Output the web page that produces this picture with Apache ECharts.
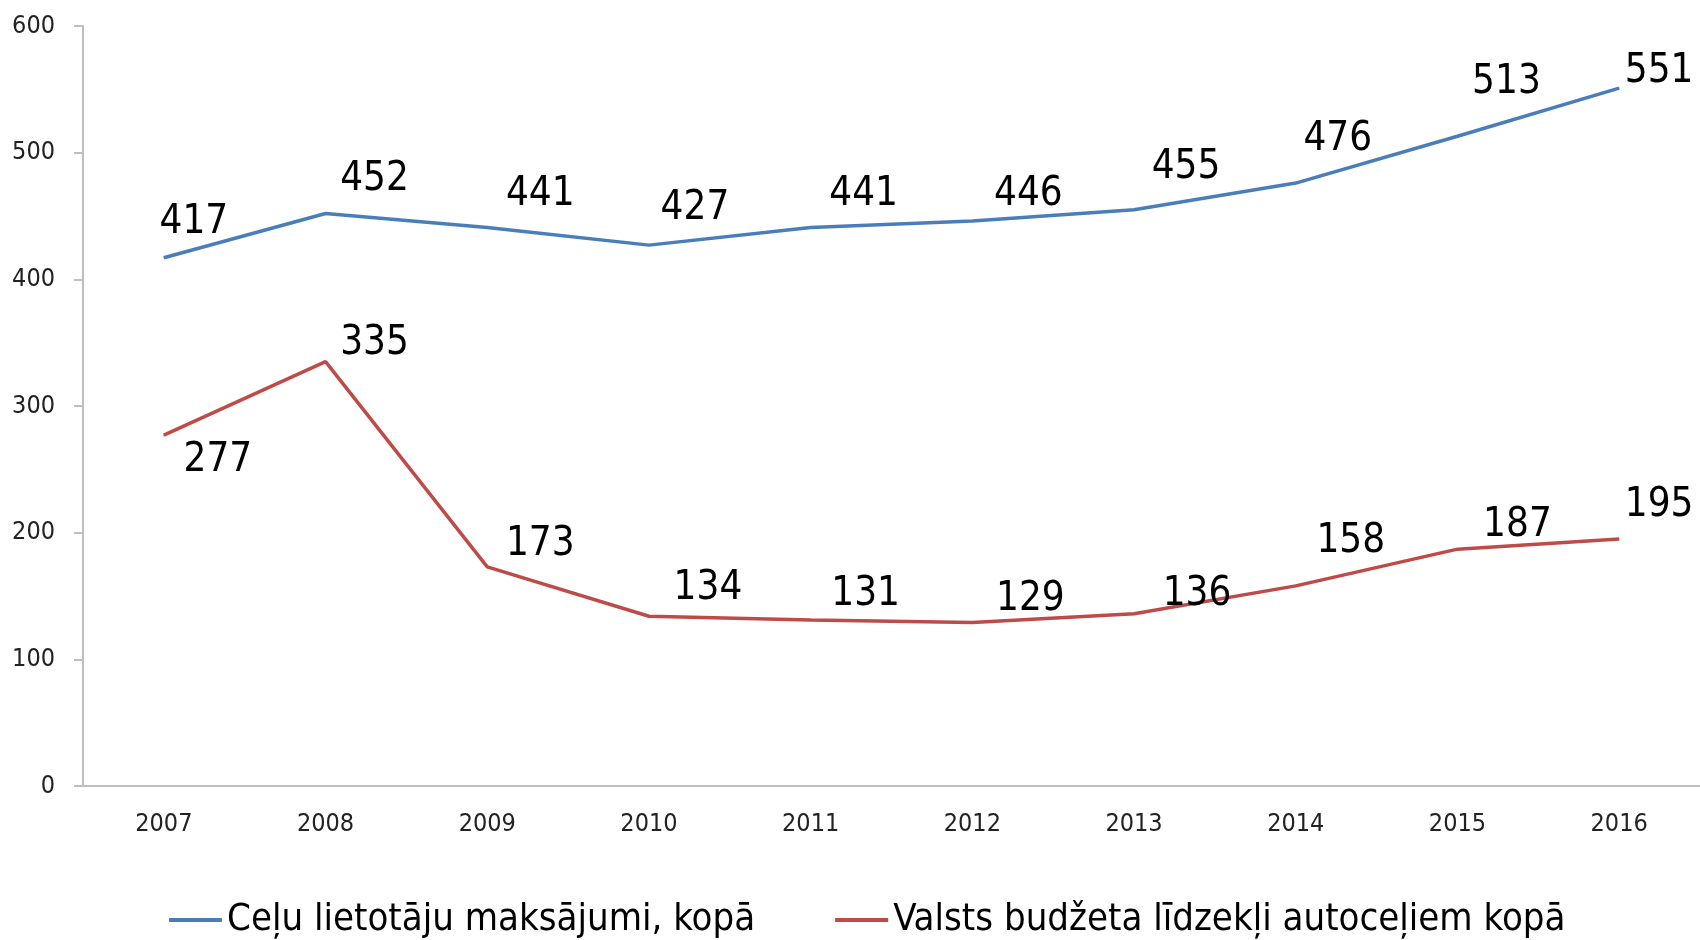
<!DOCTYPE html>
<html>
<head>
    <meta charset="utf-8">
    <title>Autoceļi</title>
    <style>
        html, body { margin: 0; padding: 0; background: #fff; }
    </style>
</head>
<body>
    <div id="main" style="width: 1700px;height:940px;"></div>

    <script src="https://cdn.jsdelivr.net/npm/echarts@6.0.0/dist/echarts.min.js"></script>
    <script type="text/javascript">
        var years = ['2007', '2008', '2009', '2010', '2011', '2012', '2013', '2014', '2015', '2016'];
        var lietotaji = [417, 452, 441, 427, 441, 446, 455, 476, 513, 551];
        var budzets = [277, 335, 173, 134, 131, 129, 136, 158, 187, 195];
        var seriesNames = ['Ceļu lietotāju maksājumi, kopā', 'Valsts budžeta līdzekļi autoceļiem kopā'];

        // label offsets (px) from each point, as placed in the original
        var blueOffsets = [[30,-35],[49,-33],[53,-32],[46,-36],[53,-32],[56,-26],[52,-42],[42,-43],[49,-53],[40,-16]];
        var redOffsets = [[54,26],[49,-18],[53,-22],[59,-27],[55,-25],[58,-22],[63,-19],[55,-44],[60,-23],[40,-33]];

        var narrow = '"Liberation Sans Narrow", "Arial Narrow", "DejaVu Sans Condensed", sans-serif';

        function withLabels(values, offsets) {
            return values.map(function (v, i) {
                return {
                    value: v,
                    label: { offset: offsets[i] }
                };
            });
        }

        var labelStyle = {
            show: true,
            position: 'top',
            distance: 0,
            align: 'center',
            verticalAlign: 'middle',
            fontFamily: narrow,
            fontSize: 40,
            color: '#000'
        };

        var myChart = echarts.init(document.getElementById('main'));
        var option = {
            animation: false,
            grid: {
                left: 83,
                right: 0,
                top: 26,
                bottom: 154
            },
            legend: {
                bottom: -4,
                left: 164,
                itemWidth: 53,
                itemHeight: 4,
                itemGap: 80,
                icon: 'rect',
                textStyle: {
                    fontFamily: narrow,
                    fontSize: 38,
                    color: '#000'
                },
                data: seriesNames
            },
            xAxis: {
                type: 'category',
                data: years,
                boundaryGap: true,
                axisLine: { lineStyle: { color: '#bfbfbf', width: 2 } },
                axisTick: { length: 9, lineStyle: { color: '#bfbfbf', width: 2 } },
                axisLabel: {
                    margin: 26,
                    fontFamily: narrow,
                    fontSize: 25,
                    color: '#222'
                }
            },
            yAxis: {
                type: 'value',
                min: 0,
                max: 600,
                interval: 100,
                splitLine: { show: false },
                axisLine: { show: true, lineStyle: { color: '#bfbfbf', width: 2 } },
                axisTick: { show: true, length: 9, lineStyle: { color: '#bfbfbf', width: 2 } },
                axisLabel: {
                    margin: 28,
                    fontFamily: narrow,
                    fontSize: 25,
                    color: '#222'
                }
            },
            series: [
                {
                    name: seriesNames[0],
                    type: 'line',
                    data: withLabels(lietotaji, blueOffsets),
                    symbol: 'circle',
                    symbolSize: 1,
                    showSymbol: true,
                    lineStyle: { color: '#4a7ebb', width: 3.5 },
                    itemStyle: { color: '#4a7ebb' },
                    label: labelStyle
                },
                {
                    name: seriesNames[1],
                    type: 'line',
                    data: withLabels(budzets, redOffsets),
                    symbol: 'circle',
                    symbolSize: 1,
                    showSymbol: true,
                    lineStyle: { color: '#be4b48', width: 3.5 },
                    itemStyle: { color: '#be4b48' },
                    label: labelStyle
                }
            ]
        };
        myChart.setOption(option);
    </script>
</body>
</html>
